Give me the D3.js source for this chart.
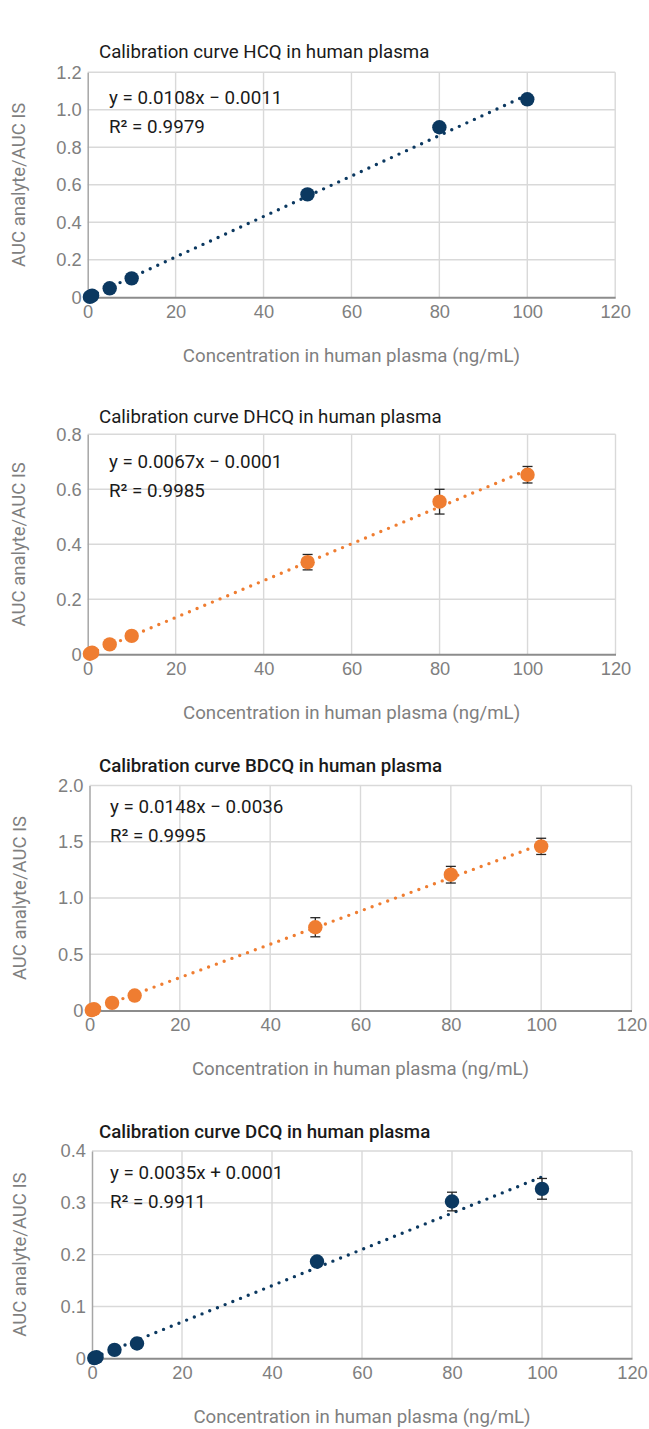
<!DOCTYPE html>
<html>
<head>
<meta charset="utf-8">
<script src="https://cdn.jsdelivr.net/npm/d3@7"></script>
<style>
  html, body { margin: 0; padding: 0; background: #ffffff; }
  svg { display: block; font-family: Roboto, "Noto Sans", sans-serif; }
</style>
</head>
<body>
<svg id="chart" width="649" height="1429"></svg>
<script>
// Calibration standards (ng/mL) shared by all four analytes
const concentrations = [0.5, 1, 5, 10, 50, 80, 100];

// Mean response ratio (AUC analyte / AUC IS) and its error per standard
const hcqValues   = [0.002, 0.009, 0.048, 0.101, 0.549, 0.907, 1.056];
const hcqErrors   = [0, 0, 0.004, 0.006, 0.012, 0.018, 0.012];
const dhcqValues  = [0.002, 0.006, 0.036, 0.067, 0.335, 0.555, 0.653];
const dhcqErrors  = [0, 0, 0.003, 0.004, 0.028, 0.045, 0.030];
const bdcqValues  = [0.004, 0.012, 0.068, 0.133, 0.740, 1.207, 1.459];
const bdcqErrors  = [0, 0, 0.010, 0.012, 0.085, 0.074, 0.072];
const dcqValues   = [0.0005, 0.002, 0.0163, 0.0286, 0.1867, 0.3025, 0.327];
const dcqErrors   = [0, 0, 0.001, 0.002, 0.004, 0.018, 0.020];

// Linear fit of each curve: slope, intercept, R²
const fitSlopes     = [0.0108, 0.0067, 0.0148, 0.0035];
const fitIntercepts = [-0.0011, -0.0001, -0.0036, 0.0001];
const fitR2         = [0.9979, 0.9985, 0.9995, 0.9911];

const analytes = ["HCQ", "DHCQ", "BDCQ", "DCQ"];
const yMaxima  = [1.2, 0.8, 2.0, 0.4];
const yTickValues = [
  [0, 0.2, 0.4, 0.6, 0.8, 1.0, 1.2],
  [0, 0.2, 0.4, 0.6, 0.8],
  [0, 0.5, 1.0, 1.5, 2.0],
  [0, 0.1, 0.2, 0.3, 0.4]
];
const xTickValues = [0, 20, 40, 60, 80, 100, 120];

const seriesValues = [hcqValues, dhcqValues, bdcqValues, dcqValues];
const seriesErrors = [hcqErrors, dhcqErrors, bdcqErrors, dcqErrors];

// Page layout of the four stacked panels
const NAVY = "#0b3860", ORANGE = "#ef7d31";
const layout = [
  { left: 87.7, right: 615.2, top: 72.3,  bottom: 297.3,  titleY: 57.5,   eqY: 103.5,  eqX: 109, color: NAVY,   bold: false, ylabX: 24.5 },
  { left: 87.7, right: 615.5, top: 434.3, bottom: 654.3,  titleY: 422.5,  eqY: 467.5,  eqX: 109, color: ORANGE, bold: false, ylabX: 24.5 },
  { left: 89.5, right: 631.5, top: 785.5, bottom: 1010.5, titleY: 771.5,  eqY: 812.5,  eqX: 110, color: ORANGE, bold: true,  ylabX: 26 },
  { left: 92,   right: 632,   top: 1151,  bottom: 1358.3, titleY: 1137.5, eqY: 1178.5, eqX: 110, color: NAVY,   bold: true,  ylabX: 26 }
];

const svg = d3.select("#chart");
const TEXT_GRAY = "#7f7f7f", GRID = "#d9d9d9";

const fmtY = v => v === 0 ? "0" : d3.format(".1f")(v);
const fmtCoef = v => v.toFixed(4);

analytes.forEach((name, i) => {
  const L = layout[i];
  const x = d3.scaleLinear().domain([0, 120]).range([L.left, L.right]);
  const y = d3.scaleLinear().domain([0, yMaxima[i]]).range([L.bottom, L.top]);
  const g = svg.append("g");

  // horizontal gridlines (including the top frame)
  g.append("g").selectAll("line").data(yTickValues[i].filter(v => v > 0)).join("line")
    .attr("x1", L.left).attr("x2", L.right)
    .attr("y1", d => y(d)).attr("y2", d => y(d))
    .attr("stroke", GRID).attr("stroke-width", 1.4);

  // vertical gridlines (including the right frame)
  g.append("g").selectAll("line").data(xTickValues.filter(v => v > 0)).join("line")
    .attr("x1", d => x(d)).attr("x2", d => x(d))
    .attr("y1", L.top).attr("y2", L.bottom)
    .attr("stroke", GRID).attr("stroke-width", 1.4);

  // y axis
  const yAxis = g.append("g").attr("transform", `translate(${L.left},0)`)
    .call(d3.axisLeft(y).tickValues(yTickValues[i]).tickFormat(fmtY).tickSize(0).tickPadding(6));
  yAxis.select(".domain").attr("stroke", "#a6a6a6").attr("stroke-width", 1.5);
  yAxis.selectAll("text").attr("fill", TEXT_GRAY).style("font-size", "18.3px").attr("font-family", null);

  // x axis
  const xAxis = g.append("g").attr("transform", `translate(0,${L.bottom})`)
    .call(d3.axisBottom(x).tickValues(xTickValues).tickFormat(d3.format("d")).tickSize(0).tickPadding(7.5));
  xAxis.select(".domain").attr("stroke", "#8c8c8c").attr("stroke-width", 2);
  xAxis.selectAll("text").attr("fill", TEXT_GRAY).style("font-size", "18.3px").attr("font-family", null);

  // axis titles
  g.append("text")
    .attr("x", (L.left + L.right) / 2).attr("y", L.bottom + 64.5)
    .attr("text-anchor", "middle").attr("fill", TEXT_GRAY).style("font-size", "18.7px")
    .text("Concentration in human plasma (ng/mL)");
  g.append("text")
    .attr("transform", `translate(${L.ylabX},${(L.top + L.bottom) / 2}) rotate(-90)`)
    .attr("text-anchor", "middle").attr("fill", TEXT_GRAY).style("font-size", "18.5px")
    .text("AUC analyte/AUC IS");

  // chart title
  g.append("text")
    .attr("x", 99).attr("y", L.titleY)
    .attr("fill", "#1a1a1a").style("font-size", "18.7px")
    .style("font-weight", L.bold ? 500 : 400)
    .text(`Calibration curve ${name} in human plasma`);

  // regression equation
  const b = fitIntercepts[i];
  g.append("text").attr("x", L.eqX).attr("y", L.eqY)
    .attr("fill", "#1a1a1a").style("font-size", "18.8px")
    .text(`y = ${fmtCoef(fitSlopes[i])}x ${b < 0 ? "\u2212" : "+"} ${fmtCoef(Math.abs(b))}`);
  g.append("text").attr("x", L.eqX).attr("y", L.eqY + 29)
    .attr("fill", "#1a1a1a").style("font-size", "18.8px")
    .text(`R\u00b2 = ${fitR2[i].toFixed(4)}`);

  const pts = concentrations.map((c, k) => ({ c, v: seriesValues[i][k], e: seriesErrors[i][k] }));

  // dotted linear trendline across the calibrated range
  const [xMin, xMax] = d3.extent(concentrations);
  const fit = c => fitSlopes[i] * c + fitIntercepts[i];
  g.append("path")
    .attr("d", d3.line()([[x(xMin), y(fit(xMin))], [x(xMax), y(fit(xMax))]]))
    .attr("stroke", L.color).attr("stroke-width", 3.4)
    .attr("stroke-linecap", "round").attr("stroke-dasharray", "0 8.3")
    .attr("fill", "none");

  // error bars
  const eb = g.append("g").attr("stroke", "#262626").attr("stroke-width", 1.3)
    .selectAll("g").data(pts.filter(p => p.e > 0)).join("g");
  eb.append("line")
    .attr("x1", p => x(p.c)).attr("x2", p => x(p.c))
    .attr("y1", p => y(p.v + p.e)).attr("y2", p => y(p.v - p.e));
  eb.append("line")
    .attr("x1", p => x(p.c) - 5).attr("x2", p => x(p.c) + 5)
    .attr("y1", p => y(p.v + p.e)).attr("y2", p => y(p.v + p.e));
  eb.append("line")
    .attr("x1", p => x(p.c) - 5).attr("x2", p => x(p.c) + 5)
    .attr("y1", p => y(p.v - p.e)).attr("y2", p => y(p.v - p.e));

  // markers
  g.append("g").selectAll("circle").data(pts).join("circle")
    .attr("cx", p => x(p.c)).attr("cy", p => y(p.v)).attr("r", 7.2)
    .attr("fill", L.color);
});
</script>
</body>
</html>
